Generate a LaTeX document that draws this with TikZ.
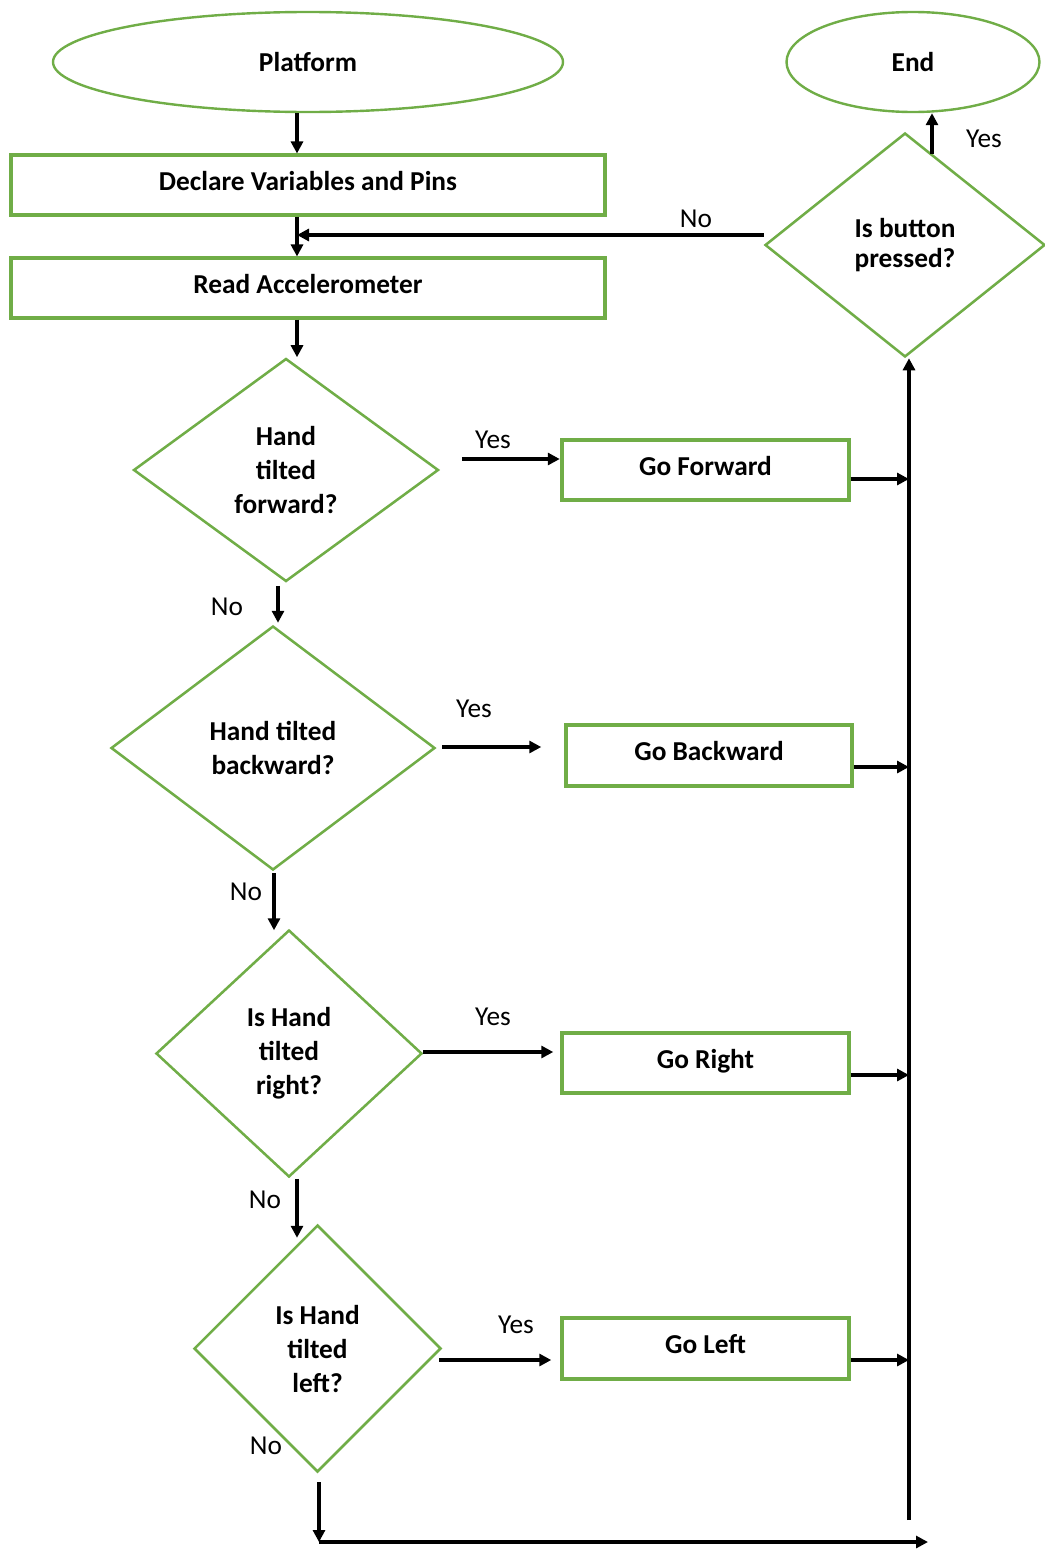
\documentclass[tikz,border=0pt]{standalone}
\usepackage{fontspec}
\setmainfont{Carlito}
\usetikzlibrary{shapes.geometric,arrows.meta,calc}
\definecolor{flowgreen}{RGB}{112,173,71}

\begin{document}
\begin{tikzpicture}[x=0.75pt,y=-0.75pt,
  box/.style={draw=flowgreen,line width=2.3pt,rectangle,inner sep=0pt,
    text height=14.7pt,text depth=6.6pt,
    font=\bfseries\fontsize{20.5}{24}\selectfont},
  term/.style={draw=flowgreen,line width=1.8pt,ellipse,inner sep=0pt,
    font=\bfseries\fontsize{20.5}{24}\selectfont},
  decision/.style={draw=flowgreen,line width=1.9pt,diamond,inner sep=0pt,
    align=center,font=\bfseries\fontsize{20.5}{25.5}\selectfont},
  arr/.style={draw=black,line width=2.4pt,-{Triangle[length=9pt,width=9pt]}},
  lbl/.style={inner sep=0pt,font=\fontsize{20.5}{24}\selectfont}
]
\useasboundingbox (0,0) rectangle (1045,1549);

% terminals
\node[term,minimum width=510*0.75pt,minimum height=100*0.75pt] (platform) at (308,62) {Platform};
\node[term,minimum width=253*0.75pt,minimum height=100*0.75pt] (end) at (913,62) {End};

% set-up steps
\node[box,minimum width=594*0.75pt,minimum height=60*0.75pt] (declare) at (308,185) {Declare Variables and Pins};
\node[box,minimum width=594*0.75pt,minimum height=60*0.75pt] (read) at (308,288) {Read Accelerometer};

% decisions
\node[decision,minimum width=305*0.75pt,minimum height=223*0.75pt] (d1) at (286,470) {Hand\\tilted\\forward?};
\node[decision,minimum width=324*0.75pt,minimum height=244*0.75pt] (d2) at (273,748) {Hand tilted\\backward?};
\node[decision,minimum width=266*0.75pt,minimum height=247*0.75pt] (d3) at (289,1053.5) {Is Hand\\tilted\\right?};
\node[decision,minimum width=247*0.75pt,minimum height=247*0.75pt] (d4) at (317.5,1348.5) {Is Hand\\tilted\\left?};
\node[decision,minimum width=280*0.75pt,minimum height=224*0.75pt,font=\bfseries\fontsize{20.5}{22.5}\selectfont] (button) at (905,245) {Is button\\pressed?};

% actions
\node[box,minimum width=287*0.75pt,minimum height=60*0.75pt] (fwd) at (705.5,470) {Go Forward};
\node[box,minimum width=286*0.75pt,minimum height=61*0.75pt] (back) at (709,755.5) {Go Backward};
\node[box,minimum width=287*0.75pt,minimum height=60*0.75pt] (right) at (705.5,1063) {Go Right};
\node[box,minimum width=287*0.75pt,minimum height=61*0.75pt] (left) at (705.5,1348.5) {Go Left};

% vertical guides
\coordinate (spine) at (297,0);
\coordinate (rail) at (909,1520);
\coordinate (base) at (319,1542);

% main sequence
\draw[arr] (platform.south -| spine) -- (declare.north -| spine);
\draw[arr] (declare.south -| spine) -- (read.north -| spine);
\draw[arr] (read.south -| spine) -- (d1.north -| spine);

% button loop back
\draw[arr] (button.west) ++(0,-10) coordinate (bw) -- (bw -| spine);
\node[lbl] (lno0) at (696,219) {No};
\draw[arr] ($(end.south)+(19,41)$) coordinate (by) -- (by |- end.south);
\node[lbl] (lyes0) at (984,139) {Yes};

% yes branches
\draw[arr] ($(d1.east)+(22,-11)$) -- ++(98,0);
\node[lbl] (lyes1) at (493,440) {Yes};
\draw[arr] ($(d2.east)+(6,-1)$) -- ++(99,0);
\node[lbl] (lyes2) at (474,709) {Yes};
\draw[arr] ($(d3.east)+(0,-1.5)$) -- ++(130,0);
\node[lbl] (lyes3) at (493,1017) {Yes};
\draw[arr] ($(d4.east)+(-3,11.5)$) -- ++(112,0);
\node[lbl] (lyes4) at (516,1325) {Yes};

% no branches
\draw[arr] ($(d1.south)+(-8,3)$) -- ++(0,37);
\node[lbl] (lno1) at (227,607) {No};
\draw[arr] ($(d2.south)+(1,2)$) -- ++(0,57);
\node[lbl] (lno2) at (246,892) {No};
\draw[arr] ($(d3.south)+(8,0.5)$) -- ++(0,59);
\node[lbl] (lno3) at (265,1200) {No};
\node[lbl] (lno4) at (266,1446) {No};
\draw[arr] ($(d4.south)+(1.5,9)$) -- (base);
\draw[arr] (base) -- ++(609,0);

% actions join the return rail
\draw[arr] (rail) -- (rail |- button.south);
\draw[arr] ($(fwd.east)+(0,9)$) coordinate (f1) -- (f1 -| rail);
\draw[arr] ($(back.east)+(0,11.5)$) coordinate (f2) -- (f2 -| rail);
\draw[arr] ($(right.east)+(0,12)$) coordinate (f3) -- (f3 -| rail);
\draw[arr] ($(left.east)+(0,11.5)$) coordinate (f4) -- (f4 -| rail);
\end{tikzpicture}
\end{document}
